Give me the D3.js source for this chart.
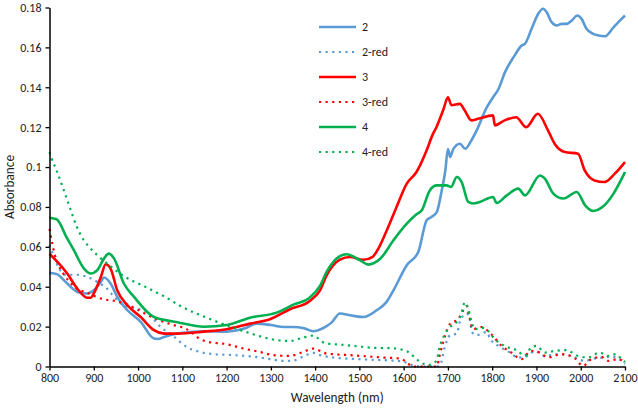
<!DOCTYPE html>
<html><head><meta charset="utf-8">
<script src="https://cdn.jsdelivr.net/npm/d3@7"></script>
<style>
body{margin:0;background:#fff;}
svg{display:block;}
text{font-family:Carlito, Lato, "Open Sans", sans-serif;fill:#222;}
</style></head>
<body><svg id="c" width="638" height="409"></svg>
<script>
// ---- Data ----
const xTicks = [800,900,1000,1100,1200,1300,1400,1500,1600,1700,1800,1900,2000,2100];
const yTicks = [0,0.02,0.04,0.06,0.08,0.1,0.12,0.14,0.16,0.18];
const seriesNames = ["2","2-red","3","3-red","4","4-red"];
const seriesColors = ["#5B9BD5","#5B9BD5","#FF0000","#FF0000","#00B050","#00B050"];
const seriesDotted = [false,true,false,true,false,true];

const s2 = [[800,0.047],[818,0.0462],[833,0.0432],[848,0.0399],[863,0.0374],[885,0.0366],[900,0.0382],[916,0.0424],[923,0.0446],[938,0.0416],[953,0.0349],[976,0.0282],[1006,0.0224],[1036,0.014],[1045,0.0138],[1059,0.0148],[1089,0.0165],[1119,0.0173],[1149,0.0177],[1200,0.0175],[1240,0.019],[1268,0.0215],[1300,0.0208],[1330,0.0198],[1350,0.0198],[1375,0.0192],[1395,0.0177],[1407,0.0182],[1426,0.0202],[1437,0.022],[1456,0.0266],[1479,0.0257],[1509,0.0248],[1539,0.0282],[1560,0.032],[1577,0.0382],[1607,0.0508],[1633,0.0574],[1652,0.0733],[1663,0.075],[1675,0.0775],[1686,0.0883],[1694,0.098],[1700,0.109],[1705,0.105],[1712,0.109],[1727,0.1117],[1739,0.1092],[1752,0.113],[1765,0.1184],[1788,0.130],[1802,0.135],[1814,0.139],[1829,0.1476],[1848,0.155],[1867,0.161],[1874,0.1618],[1889,0.1693],[1904,0.1769],[1915,0.1794],[1923,0.1777],[1934,0.1727],[1946,0.171],[1957,0.1718],[1968,0.1718],[1980,0.1735],[1992,0.176],[2002,0.1743],[2013,0.1693],[2028,0.1668],[2040,0.166],[2055,0.1656],[2074,0.170],[2089,0.1735],[2100,0.176]];

const s2red = [[800,0.061],[810,0.055],[822,0.049],[835,0.046],[850,0.046],[863,0.046],[885,0.0449],[908,0.0424],[930,0.039],[946,0.0349],[965,0.031],[983,0.0296],[1013,0.0282],[1029,0.0252],[1051,0.0198],[1080,0.0153],[1095,0.0123],[1110,0.0098],[1140,0.0073],[1170,0.0062],[1215,0.0057],[1260,0.005],[1298,0.0037],[1328,0.0028],[1351,0.003],[1373,0.005],[1396,0.0068],[1411,0.0057],[1441,0.0045],[1516,0.0035],[1592,0.0027],[1608,0.0018],[1622,0.0005],[1640,0],[1675,0],[1682,0.0005],[1693,0.0098],[1705,0.0157],[1720,0.0165],[1727,0.0224],[1742,0.0266],[1750,0.0232],[1754,0.0173],[1765,0.0157],[1788,0.0173],[1795,0.014],[1818,0.0098],[1840,0.007],[1858,0.0045],[1881,0.0053],[1896,0.0078],[1919,0.0053],[1949,0.0062],[1979,0.0053],[2009,0.0028],[2031,0.004],[2054,0.0045],[2069,0.005],[2084,0.004],[2100,0.0012]];

const s3 = [[800,0.0565],[818,0.0524],[840,0.0466],[863,0.039],[885,0.0345],[893,0.0345],[900,0.0366],[916,0.0449],[927,0.0513],[938,0.0491],[953,0.0382],[976,0.0307],[1006,0.0248],[1036,0.0182],[1059,0.0165],[1089,0.0165],[1149,0.0175],[1200,0.0187],[1253,0.0215],[1298,0.0237],[1343,0.0287],[1388,0.0329],[1411,0.0382],[1426,0.0457],[1456,0.0536],[1479,0.0549],[1509,0.0535],[1530,0.055],[1545,0.060],[1562,0.0683],[1584,0.080],[1607,0.0917],[1629,0.0975],[1652,0.1084],[1665,0.116],[1674,0.12],[1690,0.129],[1700,0.135],[1708,0.131],[1727,0.1317],[1738,0.1284],[1753,0.1234],[1768,0.1242],[1802,0.1259],[1806,0.1209],[1828,0.1234],[1854,0.125],[1877,0.12],[1903,0.1267],[1926,0.1184],[1941,0.1117],[1964,0.1075],[1994,0.1067],[2009,0.0983],[2031,0.0933],[2054,0.0925],[2077,0.0967],[2100,0.1025]];

const s3red = [[800,0.069],[806,0.062],[812,0.056],[820,0.051],[830,0.047],[843,0.043],[858,0.0396],[884,0.0371],[922,0.0337],[944,0.033],[974,0.0312],[1004,0.0279],[1042,0.0237],[1080,0.0208],[1110,0.0187],[1140,0.0138],[1159,0.0123],[1200,0.0112],[1238,0.009],[1275,0.0073],[1306,0.0057],[1343,0.0053],[1373,0.0073],[1396,0.009],[1426,0.0065],[1479,0.0057],[1554,0.0045],[1590,0.004],[1605,0.0025],[1620,0],[1675,0],[1681,0.0053],[1689,0.012],[1696,0.017],[1704,0.0212],[1723,0.0237],[1734,0.0279],[1742,0.0304],[1749,0.0246],[1756,0.0187],[1775,0.0198],[1798,0.0162],[1821,0.0103],[1843,0.007],[1866,0.0037],[1888,0.0078],[1907,0.007],[1926,0.0045],[1956,0.0062],[1986,0.0042],[2005,0.0003],[2024,0.0037],[2047,0.0048],[2062,0.0028],[2084,0.0037],[2100,0.0022]];

const s4 = [[800,0.0746],[816,0.0738],[839,0.0646],[855,0.0583],[878,0.0491],[893,0.0466],[908,0.0483],[923,0.0541],[934,0.0566],[946,0.0541],[968,0.0416],[991,0.0349],[1036,0.0248],[1089,0.0222],[1149,0.0199],[1200,0.0208],[1253,0.0245],[1313,0.027],[1351,0.031],[1388,0.0346],[1411,0.0404],[1426,0.0474],[1456,0.0553],[1471,0.0563],[1501,0.0533],[1520,0.0511],[1547,0.054],[1577,0.0633],[1607,0.0716],[1629,0.0763],[1641,0.0783],[1659,0.0883],[1675,0.0908],[1697,0.0908],[1707,0.09],[1720,0.095],[1731,0.0925],[1746,0.0825],[1757,0.0817],[1772,0.0825],[1802,0.085],[1810,0.082],[1833,0.0858],[1859,0.0892],[1874,0.0858],[1908,0.0958],[1919,0.0942],[1938,0.0867],[1961,0.0842],[1991,0.0875],[2010,0.0808],[2028,0.078],[2051,0.0803],[2074,0.0867],[2100,0.0975]];

const s4red = [[800,0.1075],[805,0.1042],[816,0.0983],[831,0.0892],[846,0.0797],[861,0.0704],[876,0.0638],[891,0.0596],[914,0.0546],[937,0.0504],[967,0.0454],[1012,0.0404],[1057,0.0354],[1102,0.0296],[1155,0.0245],[1208,0.02],[1260,0.0162],[1306,0.0135],[1343,0.0128],[1373,0.0145],[1395,0.0155],[1422,0.0118],[1471,0.0107],[1524,0.0095],[1584,0.009],[1599,0.0082],[1610,0.0073],[1621,0.0053],[1633,0.003],[1655,0.0007],[1674,0.0028],[1681,0.0095],[1693,0.0162],[1704,0.0198],[1715,0.0212],[1730,0.0262],[1738,0.0321],[1745,0.0296],[1753,0.0229],[1760,0.0187],[1775,0.0195],[1790,0.018],[1806,0.0137],[1828,0.0103],[1858,0.0078],[1873,0.0053],[1888,0.0095],[1900,0.0103],[1919,0.007],[1941,0.0078],[1967,0.0082],[1994,0.0053],[2016,0.0045],[2043,0.007],[2062,0.0053],[2080,0.0062],[2092,0.0037],[2100,0.0022]];

const allSeries = [s2, s2red, s3, s3red, s4, s4red];

// ---- Chart ----
const svg = d3.select("#c");
const x = d3.scaleLinear().domain([800,2100]).range([49.5,625]);
const y = d3.scaleLinear().domain([0,0.18]).range([366.5,7.5]);

const line = d3.line().x(d=>x(d[0])).y(d=>y(d[1])).curve(d3.curveMonotoneX);

allSeries.forEach((s,i)=>{
  svg.append("path").datum(s).attr("d",line)
    .attr("fill","none").attr("stroke",seriesColors[i])
    .attr("stroke-width",seriesDotted[i]?2.2:2.6)
    .attr("stroke-linejoin","round")
    .attr("stroke-dasharray",seriesDotted[i]?"2.2,4.4":null);
});

const fmt = d => d===0 ? "0" : String(+d.toFixed(2));
const gx = svg.append("g").attr("transform",`translate(0,${y(0)})`)
  .call(d3.axisBottom(x).tickValues(xTicks).tickSize(4).tickSizeOuter(0).tickFormat(d3.format("d")));
const gy = svg.append("g").attr("transform",`translate(${x(800)},0)`)
  .call(d3.axisLeft(y).tickValues(yTicks).tickSize(4).tickSizeOuter(0).tickFormat(fmt));
[gx,gy].forEach(g=>{
  g.select(".domain").attr("stroke","#000").attr("stroke-width",1.5);
  g.selectAll(".tick line").attr("stroke","#000").attr("stroke-width",1.3);
  g.selectAll(".tick text").attr("font-size",12).attr("fill","#1a1a1a")
    .style("font-family","Carlito, Lato, 'Open Sans', sans-serif");
});
gx.selectAll(".tick text").attr("dy","0.71em").attr("y",7);
gy.selectAll(".tick text").attr("x",-8);

svg.append("text").attr("x",(x(800)+x(2100))/2).attr("y",402)
  .attr("text-anchor","middle").attr("font-size",13.3).text("Wavelength (nm)");
svg.append("text").attr("transform",`translate(14,${(y(0)+y(0.18))/2}) rotate(-90)`)
  .attr("text-anchor","middle").attr("font-size",13.3).text("Absorbance");

// legend
const lg = svg.append("g");
seriesNames.forEach((n,i)=>{
  const yy = 27 + i*25;
  lg.append("line").attr("x1",319).attr("x2",356).attr("y1",yy).attr("y2",yy)
    .attr("stroke",seriesColors[i]).attr("stroke-width",seriesDotted[i]?2.2:2.6)
    .attr("stroke-dasharray",seriesDotted[i]?"2.2,4.4":null);
  lg.append("text").attr("x",362).attr("y",yy).attr("dy","0.35em")
    .attr("font-size",12).text(n);
});
</script></body></html>
